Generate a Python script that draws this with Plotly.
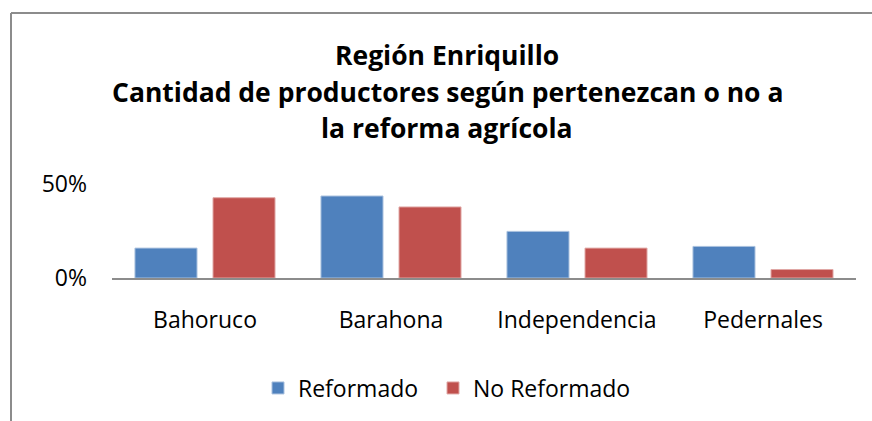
import plotly.graph_objects as go

# Region Enriquillo: share of producers by agrarian-reform status (%)
provincias = ["Bahoruco", "Barahona", "Independencia", "Pedernales"]
reformado = [15.9, 43.6, 24.8, 16.8]
no_reformado = [42.7, 37.8, 15.9, 4.5]
y_ticks = [0, 50]
y_tick_text = ["0%", "50%"]
titulo = [
    "Región Enriquillo",
    "Cantidad de productores según pertenezcan o no a",
    "la reforma agrícola",
]

FONT = "'Open Sans', sans-serif"
AXIS_GREY = "#8c8c8c"

W, H = 872, 421
L, R, T, B = 112, 16, 184, 143
pw = W - L - R
ph = H - T - B


def px_x(x):
    return (x - L) / pw


def px_y(y):
    return (H - B - y) / ph


fig = go.Figure()
fig.add_trace(go.Bar(
    name="Reformado", x=provincias, y=reformado, legend="legend",
    marker=dict(color="#4F81BD", line=dict(color="#A9C0DE", width=1)),
))
fig.add_trace(go.Bar(
    name="No Reformado", x=provincias, y=no_reformado, legend="legend2",
    marker=dict(color="#C0504D", line=dict(color="#E0A8A6", width=1)),
))

# outer chart frame (top and left edges visible)
fig.add_shape(type="line", xref="paper", yref="paper",
              x0=px_x(11), x1=px_x(11), y0=px_y(440), y1=px_y(13),
              line=dict(color=AXIS_GREY, width=2))
fig.add_shape(type="line", xref="paper", yref="paper",
              x0=px_x(11), x1=px_x(890), y0=px_y(13), y1=px_y(13),
              line=dict(color=AXIS_GREY, width=2))

# three-line bold title
for linea, yc in zip(titulo, [55, 92, 128]):
    fig.add_annotation(
        text=f"<b>{linea}</b>", showarrow=False,
        xref="paper", yref="paper", x=px_x(447), y=px_y(yc),
        xanchor="center", yanchor="middle",
        font=dict(family=FONT, size=26.5, color="#000000"),
    )

legend_style = dict(
    orientation="h", xanchor="left", y=px_y(388), yanchor="middle",
    font=dict(family=FONT, size=23, color="#000000"),
    itemwidth=30, bgcolor="rgba(0,0,0,0)",
)

fig.update_layout(
    width=W, height=H,
    margin=dict(l=L, r=R, t=T, b=B),
    paper_bgcolor="white", plot_bgcolor="white",
    font=dict(family=FONT, color="#000000"),
    barmode="group", bargap=0.161, bargroupgap=0.205,
    showlegend=True,
    legend=dict(x=px_x(258), **legend_style),
    legend2=dict(x=px_x(433), **legend_style),
)
fig.update_xaxes(
    showline=True, linecolor=AXIS_GREY, linewidth=1.5,
    showgrid=False, ticks="", ticklabelstandoff=21,
    tickfont=dict(family=FONT, size=23, color="#000000"),
    range=[-0.5, 3.5],
)
fig.update_yaxes(
    range=[0, 50], tickvals=y_ticks, ticktext=y_tick_text,
    showgrid=True, gridcolor=AXIS_GREY, gridwidth=1.5,
    zeroline=False, showline=False, ticks="", ticklabelstandoff=24,
    tickfont=dict(family=FONT, size=23, color="#000000"),
)

fig.write_html("out.html")
